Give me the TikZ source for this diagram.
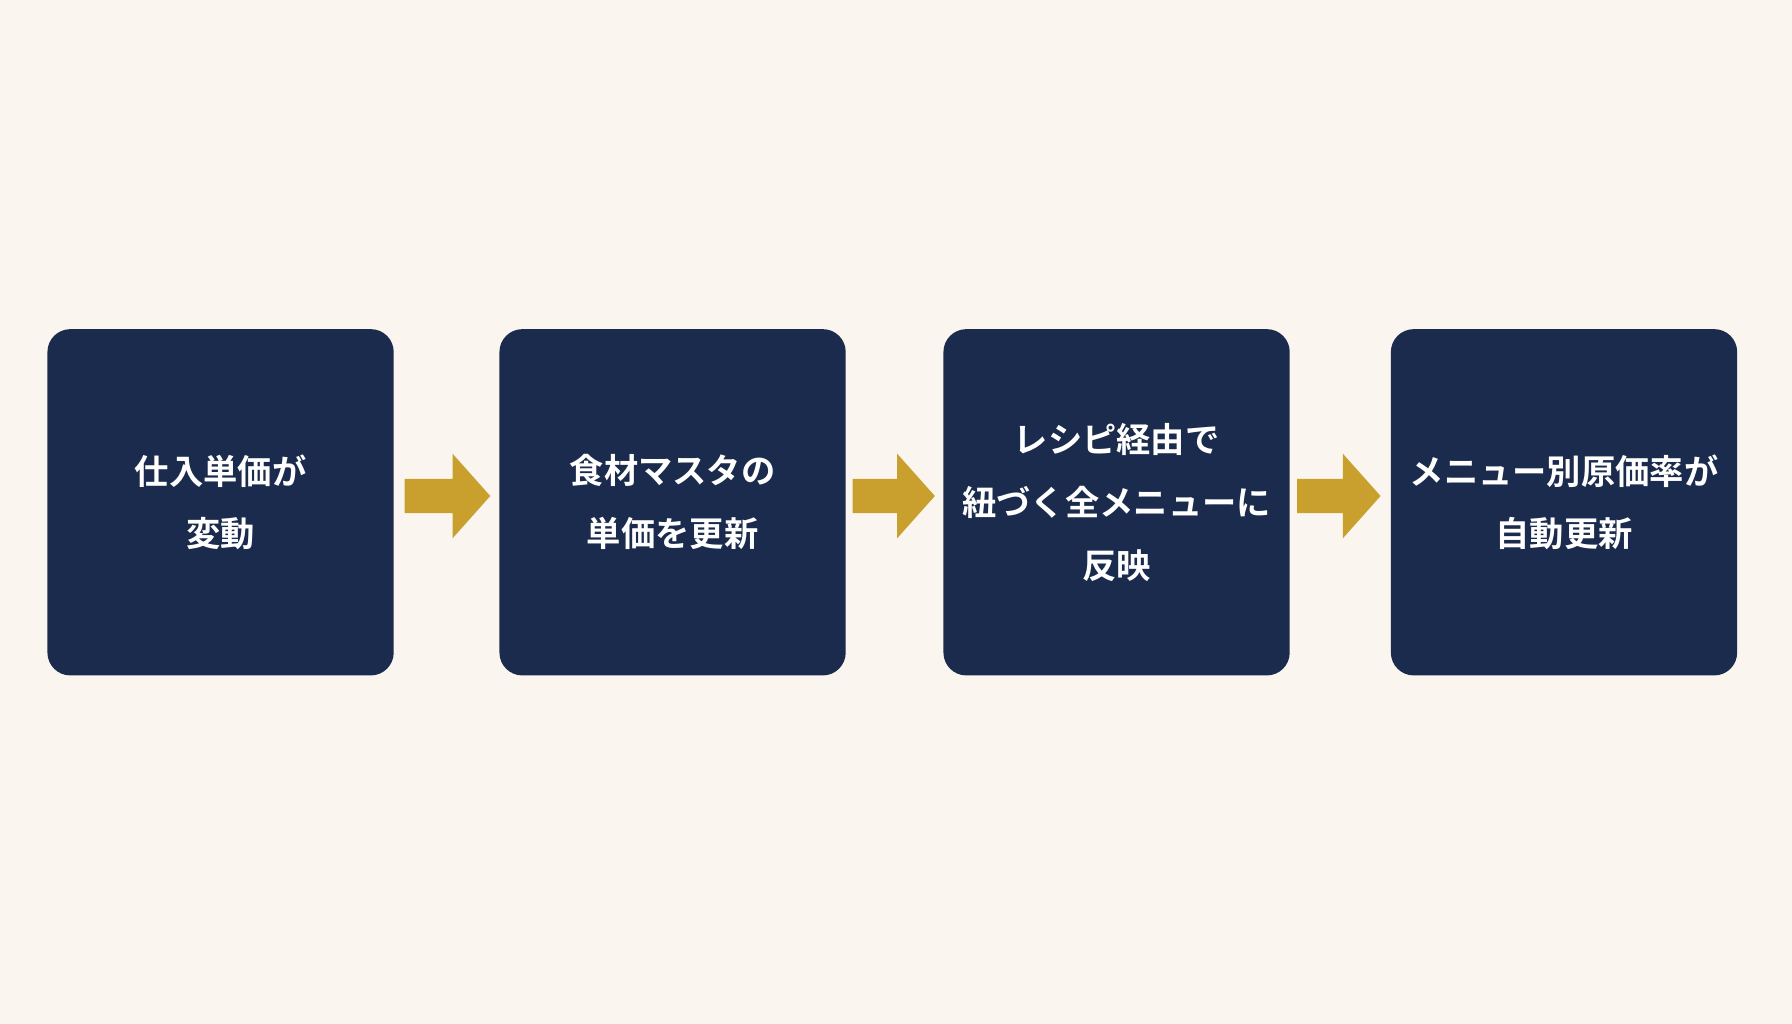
\documentclass[tikz,border=0pt]{standalone}
\usepackage{fontspec}
\newfontfamily\cjk[BoldFont={Noto Sans CJK JP Bold}]{Noto Sans CJK JP}
\definecolor{bg}{HTML}{FAF6EF}
\definecolor{navy}{HTML}{1B2B4D}
\definecolor{gold}{HTML}{C9A02E}
\begin{document}
\begin{tikzpicture}[x=1pt,y=-1pt,
  box/.style={fill=navy,rounded corners=20pt,minimum width=303pt,minimum height=303pt,inner sep=0pt,
    text=white,font=\cjk\bfseries\fontsize{30}{55}\selectfont,align=center},
  arr/.style={fill=gold}]
\fill[bg] (0,0) rectangle (1568,896);
\useasboundingbox (0,0) rectangle (1568,896);
\node[box] (b1) at (193,439.5) {仕入単価が\\変動};
\node[box] (b2) at (588.5,439.5) {食材マスタの\\単価を更新};
\node[box] (b3) at (977,439.5) {レシピ経由で\\紐づく全メニューに\\反映};
\node[box] (b4) at (1368.5,439.5) {メニュー別原価率が\\自動更新};
\foreach \a/\b in {354/429,746/818,1135/1208}{
  \fill[arr] (\a,419) -- (\b-33,419) -- (\b-33,397) -- (\b,434) -- (\b-33,471) -- (\b-33,449) -- (\a,449) -- cycle;}
\end{tikzpicture}
\end{document}
